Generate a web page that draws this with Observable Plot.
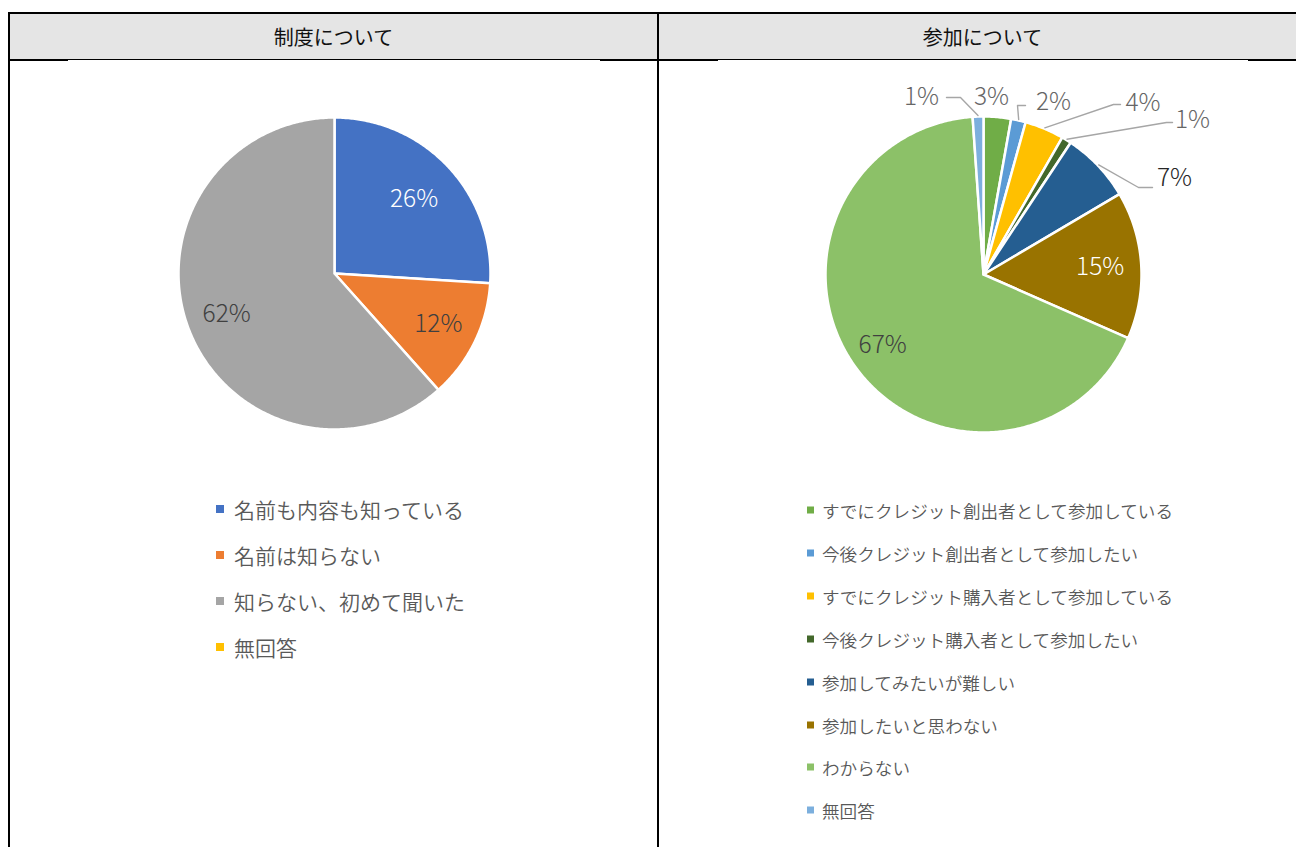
<!DOCTYPE html>
<html><head><meta charset="utf-8">
<script src="https://cdn.jsdelivr.net/npm/d3@7"></script>
<script src="https://cdn.jsdelivr.net/npm/@observablehq/plot@0.6"></script>
<style>
body{margin:0;background:#fff;font-family:"Noto Sans CJK JP","Noto Sans",sans-serif;}
#root{position:relative;width:1296px;height:847px;overflow:hidden;background:#fff;}
.ln{position:absolute;background:#000;}
.hdr{position:absolute;top:14px;height:45px;background:#E5E5E5;display:flex;align-items:center;justify-content:center;font-size:20px;color:#111;font-weight:400;}
.pie{position:absolute;}
.legend{position:absolute;left:0;top:0;color:#595959;}
.row{position:absolute;display:flex;align-items:center;white-space:nowrap;transform:translateY(-50%);font-weight:350;}
.sw{display:inline-block;}
</style></head>
<body>
<div id="root">
  <div class="hdr" id="h1" style="left:10px;width:647px;"></div>
  <div class="hdr" id="h2" style="left:659px;width:647px;"></div>
  <div class="ln" style="left:8px;top:12px;width:1288px;height:2px;"></div>
  <div class="ln" style="left:8px;top:12px;width:2px;height:835px;"></div>
  <div class="ln" style="left:657px;top:12px;width:2px;height:835px;"></div>
  <div class="ln" style="left:8px;top:59px;width:1288px;height:1px;"></div>
  <div class="ln" style="left:10px;top:59px;width:58px;height:2px;"></div>
  <div class="ln" style="left:600px;top:59px;width:118px;height:2px;"></div>
  <div class="ln" style="left:1248px;top:59px;width:48px;height:2px;"></div>
  <div class="pie" id="pie1" style="left:134px;top:73px;"></div>
  <div class="pie" id="pie2" style="left:733px;top:64px;"></div>
  <div id="leg1"></div>
  <div id="leg2"></div>
</div>
<script>
// ---------- data ----------
const panelTitles = ["制度について", "参加について"];

const leftCategories = ["名前も内容も知っている", "名前は知らない", "知らない、初めて聞いた", "無回答"];
const leftValues = [26.0, 12.4, 61.6, 0];
const leftLabels = ["26%", "12%", "62%", ""];
const leftColors = ["#4472C4", "#ED7D31", "#A5A5A5", "#FFC000"];

const rightCategories = [
  "すでにクレジット創出者として参加している",
  "今後クレジット創出者として参加したい",
  "すでにクレジット購入者として参加している",
  "今後クレジット購入者として参加したい",
  "参加してみたいが難しい",
  "参加したいと思わない",
  "わからない",
  "無回答"
];
const rightValues = [2.8, 1.5, 4.0, 1.0, 7.2, 15.1, 67.3, 1.1];
const rightLabels = ["3%", "2%", "4%", "1%", "7%", "15%", "67%", "1%"];
const rightColors = ["#70AD47", "#5B9BD5", "#FFC000", "#43682B", "#255E91", "#997300", "#8CC168", "#7CAFDD"];

// ---------- layout / style config ----------
const leftLabelStyle = [
  {color: "#FFFFFF", r: 0.70},
  {color: "#404040", r: 0.74},
  {color: "#404040", r: 0.74},
  {color: "#404040", r: 0.74}
];
// outside labels: text position (px offsets from center, y up), leader elbow and end
const rightLabelStyle = [
  {color: "#666666", pos: [8, 177]},
  {color: "#666666", pos: [70, 172], elbow: [34, 169], end: [42, 169]},
  {color: "#666666", pos: [159.5, 171], elbow: [130, 170], end: [137, 170]},
  {color: "#666666", pos: [209, 154], elbow: [183, 152], end: [189, 152]},
  {color: "#262626", pos: [191, 96], elbow: [155, 87], end: [169, 87]},
  {color: "#FFFFFF", r: 0.74},
  {color: "#404040", r: 0.78},
  {color: "#666666", pos: [-62, 177], elbow: [-23, 177], end: [-37, 177]}
];

function drawPie({values, categories, colors, labels, styles, R, width, height}) {
  const arcs = d3.pie().sort(null).value(d => d)(values);
  const pts = [];
  const labelData = [];
  const leaders = [];
  arcs.forEach((a, i) => {
    const span = a.endAngle - a.startAngle;
    if (span <= 0) return;
    const key = categories[i];
    pts.push({key, x: 0, y: 0});
    const n = Math.max(2, Math.ceil(span / 0.01));
    for (let k = 0; k <= n; k++) {
      const t = a.startAngle + span * k / n;
      pts.push({key, x: R * Math.sin(t), y: R * Math.cos(t)});
    }
    pts.push({key, x: 0, y: 0});
    const mid = (a.startAngle + a.endAngle) / 2;
    const st = styles[i];
    if (st.pos) {
      labelData.push({text: labels[i], x: st.pos[0], y: st.pos[1], color: st.color});
      if (st.elbow) {
        leaders.push({id: i, x: (R + 1) * Math.sin(mid), y: (R + 1) * Math.cos(mid)});
        leaders.push({id: i, x: st.elbow[0], y: st.elbow[1]});
        leaders.push({id: i, x: st.end[0], y: st.end[1]});
      }
    } else {
      const r = st.r * R;
      labelData.push({text: labels[i], x: r * Math.sin(mid), y: r * Math.cos(mid), color: st.color});
    }
  });
  const textMarks = Array.from(d3.group(labelData, d => d.color), ([color, rows]) =>
    Plot.text(rows, {x: "x", y: "y", text: "text", fill: color, fontSize: 24.5, fontWeight: 300,
      fontFamily: "'Noto Sans CJK JP', 'Noto Sans', sans-serif"}));
  return Plot.plot({
    width, height, margin: 0,
    style: {background: "transparent", overflow: "visible"},
    x: {domain: [-width / 2, width / 2], axis: null},
    y: {domain: [-height / 2, height / 2], axis: null},
    color: {domain: categories, range: colors},
    marks: [
      Plot.line(pts, {x: "x", y: "y", z: "key", fill: "key", stroke: "white", strokeWidth: 2.5, strokeLinejoin: "round"}),
      Plot.line(leaders, {x: "x", y: "y", z: "id", stroke: "#A6A6A6", strokeWidth: 1.4}),
      ...textMarks
    ]
  });
}

function drawLegend(el, categories, colors, {left, textLeft, top, step, sw, fontSize}) {
  el.className = "legend";
  categories.forEach((c, i) => {
    const row = document.createElement("div");
    row.className = "row";
    row.style.left = left + "px";
    row.style.top = (top + i * step) + "px";
    row.style.fontSize = fontSize + "px";
    const s = document.createElement("span");
    s.className = "sw";
    s.style.width = sw + "px";
    s.style.height = sw + "px";
    s.style.background = colors[i];
    s.style.marginRight = (textLeft - left - sw) + "px";
    const t = document.createElement("span");
    t.textContent = c;
    row.appendChild(s);
    row.appendChild(t);
    el.appendChild(row);
  });
}

document.getElementById("h1").textContent = panelTitles[0];
document.getElementById("h2").textContent = panelTitles[1];

document.getElementById("pie1").appendChild(drawPie({
  values: leftValues, categories: leftCategories, colors: leftColors, labels: leftLabels,
  styles: leftLabelStyle, R: 156, width: 400, height: 400
}));
document.getElementById("pie2").appendChild(drawPie({
  values: rightValues, categories: rightCategories, colors: rightColors, labels: rightLabels,
  styles: rightLabelStyle, R: 158, width: 500, height: 420
}));

drawLegend(document.getElementById("leg1"), leftCategories, leftColors,
  {left: 216, textLeft: 234, top: 509, step: 46, sw: 8, fontSize: 21});
drawLegend(document.getElementById("leg2"), rightCategories, rightColors,
  {left: 807, textLeft: 822, top: 510, step: 42.9, sw: 7, fontSize: 17.6});
</script>
</body></html>
